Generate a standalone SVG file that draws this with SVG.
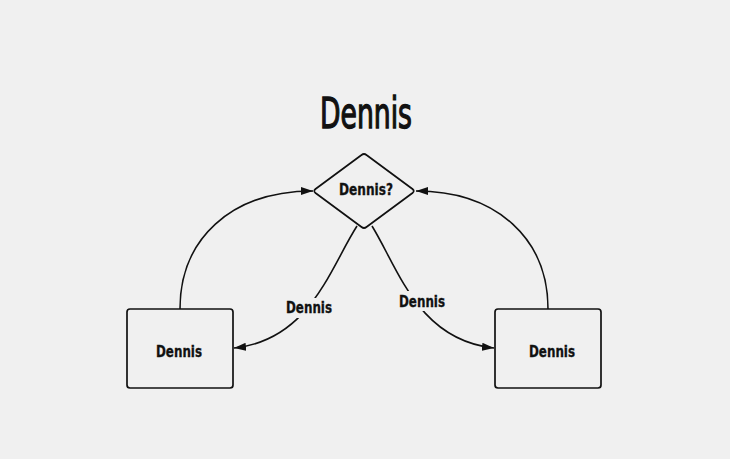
<svg xmlns="http://www.w3.org/2000/svg" width="730" height="459" viewBox="0 0 730 459">
<defs>
<style>
.bg{fill:#f0f0f0}
.shape{fill:none;stroke:#111;stroke-width:1.7}
.edge{fill:none;stroke:#111;stroke-width:1.6}
.lbl{font-family:"DejaVu Sans Condensed","DejaVu Sans",sans-serif;font-weight:bold;font-size:15px;fill:#111;stroke:#111;stroke-width:0.3;text-anchor:middle}
.title{font-family:"DejaVu Sans Condensed","DejaVu Sans",sans-serif;font-size:42px;fill:#111;stroke:#111;stroke-width:1.3;text-anchor:middle}
</style>
<marker id="arr" viewBox="0 0 12 8" refX="12" refY="4" markerWidth="12" markerHeight="8" markerUnits="userSpaceOnUse" orient="auto">
<path d="M0,0 L12,4 L0,8 z" fill="#111"/>
</marker>
</defs>
<rect class="bg" x="0" y="0" width="730" height="459"/>
<text class="title" x="366" y="128" textLength="92" lengthAdjust="spacingAndGlyphs">Dennis</text>
<g id="connectors">
<path class="edge" d="M180,309 C180,240 230,191 313,191" marker-end="url(#arr)"/>
<path class="edge" d="M548,309 C548,240 498,191 416,191" marker-end="url(#arr)"/>
<path class="edge" d="M357,226 C330,268 310,340 234,348" marker-end="url(#arr)"/>
<path class="edge" d="M372,226 C398,268 418,340 494,348" marker-end="url(#arr)"/>
<rect class="bg" x="284" y="298" width="50" height="20"/>
<text class="lbl" x="309" y="313" textLength="46" lengthAdjust="spacingAndGlyphs">Dennis</text>
<rect class="bg" x="397" y="291" width="50" height="20"/>
<text class="lbl" x="422" y="307" textLength="46" lengthAdjust="spacingAndGlyphs">Dennis</text>
</g>
<g id="decision">
<path class="shape" d="M361.5,155 Q364,153 366.5,155 L412.5,189 Q415,191 412.5,193 L366.5,227 Q364,229 361.5,227 L315.5,193 Q313,191 315.5,189 Z"/>
<text class="lbl" x="366" y="195" textLength="54" lengthAdjust="spacingAndGlyphs">Dennis?</text>
</g>
<g id="left-box">
<rect class="shape" x="127" y="309" width="106" height="79" rx="3"/>
<text class="lbl" x="179" y="357" textLength="46" lengthAdjust="spacingAndGlyphs">Dennis</text>
</g>
<g id="right-box">
<rect class="shape" x="495" y="309" width="106" height="79" rx="3"/>
<text class="lbl" x="552" y="357" textLength="46" lengthAdjust="spacingAndGlyphs">Dennis</text>
</g>
</svg>
